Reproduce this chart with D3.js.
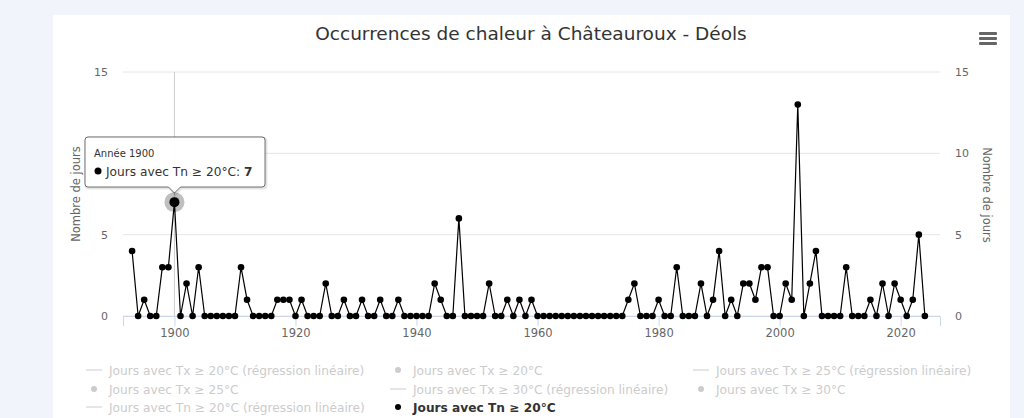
<!DOCTYPE html>
<html><head><meta charset="utf-8">
<script src="https://cdnjs.cloudflare.com/ajax/libs/d3/7.8.5/d3.min.js"></script>
<style>
html,body{margin:0;padding:0;background:#f1f5fb;}
svg{display:block;font-family:"DejaVu Sans",sans-serif;}
</style></head><body>
<svg id="chart" width="1024" height="418"></svg>
<script>
const years = d3.range(1893, 2025);
const tnValues = [
 4,0,1,0,0,3,3,7,0,2,0,3,0,0,0,0,0,0,3,1, // 1893-1912
 0,0,0,0,1,1,1,0,1,0,0,0,2,0,0,1,0,0,1,0, // 1913-1932
 0,1,0,0,1,0,0,0,0,0,2,1,0,0,6,0,0,0,0,2, // 1933-1952
 0,0,1,0,1,0,1,0,0,0,0,0,0,0,0,0,0,0,0,0, // 1953-1972
 0,0,1,2,0,0,0,1,0,0,3,0,0,0,2,0,1,4,0,1, // 1973-1992
 0,2,2,1,3,3,0,0,2,1,13,0,2,4,0,0,0,0,3,0, // 1993-2012
 0,0,1,0,2,0,2,1,0,1,5,0                  // 2013-2024
];
const xTicks = [1900,1920,1940,1960,1980,2000,2020];
const yTicks = [0,5,10,15];
const legendItems = [
 {label:"Jours avec Tx ≥ 20°C (régression linéaire)", type:"line", active:false},
 {label:"Jours avec Tx ≥ 20°C", type:"dot", active:false},
 {label:"Jours avec Tx ≥ 25°C (régression linéaire)", type:"line", active:false},
 {label:"Jours avec Tx ≥ 25°C", type:"dot", active:false},
 {label:"Jours avec Tx ≥ 30°C (régression linéaire)", type:"line", active:false},
 {label:"Jours avec Tx ≥ 30°C", type:"dot", active:false},
 {label:"Jours avec Tn ≥ 20°C (régression linéaire)", type:"line", active:false},
 {label:"Jours avec Tn ≥ 20°C", type:"dot", active:true}
];
const data = years.map((y,i)=>({year:y, v:tnValues[i]}));

const svg = d3.select("#chart");
svg.append("rect").attr("x",53).attr("y",15).attr("width",957).attr("height",403).attr("fill","#fff");

const L=123, R=940, T=72, B=316;
const x = d3.scaleLinear().domain([1891.5, 2026.5]).range([L,R]);
const y = d3.scaleLinear().domain([0,15]).range([B,T]);

svg.append("text").attr("x",531).attr("y",40).attr("text-anchor","middle")
  .attr("font-size",18.5).attr("fill","#333").text("Occurrences de chaleur à Châteauroux - Déols");

svg.append("g").selectAll("line").data(yTicks).join("line")
  .attr("x1",L).attr("x2",R).attr("y1",d=>y(d)).attr("y2",d=>y(d))
  .attr("stroke","#e6e6e6").attr("stroke-width",1);

svg.append("g").selectAll("text").data(yTicks).join("text")
  .attr("x",108).attr("y",d=>y(d)+4).attr("text-anchor","end")
  .attr("font-size",11).attr("fill","#666").text(d=>d);
svg.append("g").selectAll("text").data(yTicks).join("text")
  .attr("x",955).attr("y",d=>y(d)+4).attr("text-anchor","start")
  .attr("font-size",11).attr("fill","#666").text(d=>d);

svg.append("text").attr("transform","translate(80,194) rotate(-90)").attr("text-anchor","middle")
  .attr("font-size",11.5).attr("fill","#666").text("Nombre de jours");
svg.append("text").attr("transform","translate(983,195) rotate(90)").attr("text-anchor","middle")
  .attr("font-size",11.5).attr("fill","#666").text("Nombre de jours");

const xAxis = d3.axisBottom(x).tickValues(xTicks).tickFormat(d3.format("d")).tickSize(10).tickPadding(4);
const gx = svg.append("g").attr("transform",`translate(0,${B})`).call(xAxis);
gx.select(".domain").attr("stroke","#ccd6eb");
gx.selectAll(".tick line").attr("stroke","#ccd6eb");
gx.selectAll(".tick text").attr("fill","#666").attr("font-size",11.5).attr("font-family","DejaVu Sans, sans-serif").attr("dy","0.6em");

svg.append("line").attr("x1",x(1900)).attr("x2",x(1900)).attr("y1",T).attr("y2",B)
  .attr("stroke","#cccccc").attr("stroke-width",1);

const line = d3.line().x(d=>x(d.year)).y(d=>y(d.v));
svg.append("path").datum(data).attr("d",line).attr("fill","none").attr("stroke","#000").attr("stroke-width",1.2);

const hov = data.find(d=>d.year===1900);
svg.append("circle").attr("cx",x(hov.year)).attr("cy",y(hov.v)).attr("r",10).attr("fill","#000").attr("fill-opacity",0.25);

svg.append("g").selectAll("circle").data(data).join("circle")
  .attr("cx",d=>x(d.year)).attr("cy",d=>y(d.v)).attr("r",3.3).attr("fill","#000");
svg.append("circle").attr("cx",x(hov.year)).attr("cy",y(hov.v)).attr("r",5).attr("fill","#000");

const tx = x(hov.year);
const tt = svg.append("g");
const bx=85, by=137, bw=180, bh=50;
const pathD = `M${bx+3},${by} H${bx+bw-3} Q${bx+bw},${by} ${bx+bw},${by+3} V${by+bh-3} Q${bx+bw},${by+bh} ${bx+bw-3},${by+bh} H${tx+6} L${tx},${by+bh+6} L${tx-6},${by+bh} H${bx+3} Q${bx},${by+bh} ${bx},${by+bh-3} V${by+3} Q${bx},${by} ${bx+3},${by} Z`;
tt.append("path").attr("d",pathD).attr("transform","translate(1,1)").attr("fill","none").attr("stroke","#000").attr("stroke-opacity",0.1).attr("stroke-width",3);
tt.append("path").attr("d",pathD).attr("fill","#fff").attr("fill-opacity",0.96).attr("stroke","#000").attr("stroke-opacity",0.55).attr("stroke-width",1);
tt.append("text").attr("x",bx+9).attr("y",by+20).attr("font-size",10).attr("fill","#333").text("Année " + hov.year);
tt.append("circle").attr("cx",bx+13).attr("cy",by+34).attr("r",3.5).attr("fill","#000");
const t2 = tt.append("text").attr("x",bx+21).attr("y",by+38.5).attr("font-size",12.2).attr("fill","#333");
t2.append("tspan").text("Jours avec Tn ≥ 20°C: ");
t2.append("tspan").attr("font-weight","bold").text(hov.v);

svg.append("g").selectAll("rect").data([0,1,2]).join("rect")
  .attr("x",979).attr("y",d=>32+d*5).attr("width",18).attr("height",3).attr("rx",1).attr("fill","#666");

const colX = [90, 394, 697];
const rowY = [370, 389, 407];
legendItems.forEach((it,i)=>{
  const cx = colX[i%3], cy = rowY[Math.floor(i/3)];
  const col = it.active ? "#000" : "#cccccc";
  const g = svg.append("g");
  if(it.type==="line"){
    g.append("line").attr("x1",cx-4).attr("x2",cx+12).attr("y1",cy).attr("y2",cy).attr("stroke",col).attr("stroke-width",1);
  } else {
    g.append("circle").attr("cx",cx+4).attr("cy",cy).attr("r",3).attr("fill",col);
  }
  g.append("text").attr("x",cx+19).attr("y",cy+4.5).attr("font-size",12.2).attr("font-weight",it.active?"bold":"normal")
    .attr("fill",it.active?"#333":"#cccccc").text(it.label);
});
</script>
</body></html>
